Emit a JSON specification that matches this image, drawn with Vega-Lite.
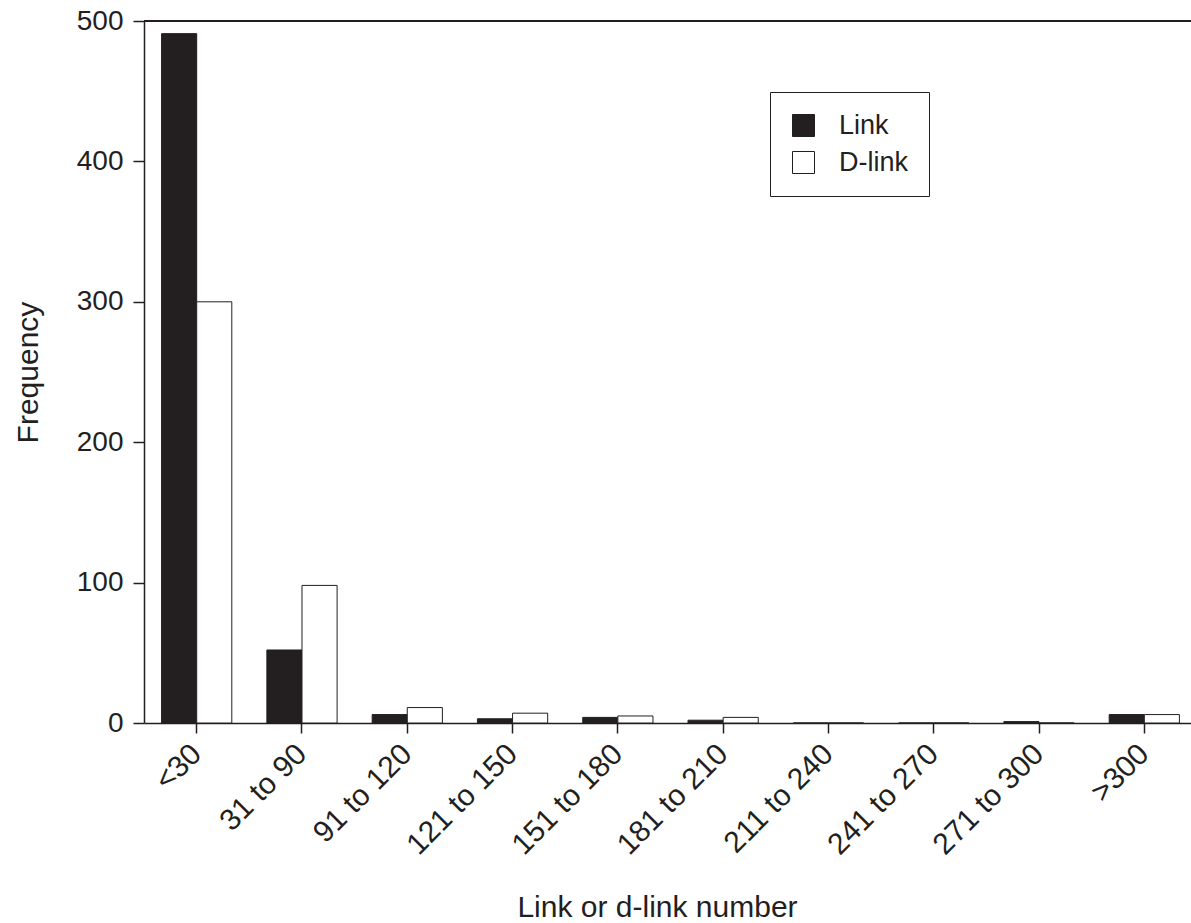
{
  "$schema": "https://vega.github.io/schema/vega-lite/v6.json",
  "autosize": {"type": "none"},
  "padding": {"left": 144, "top": 21, "right": 0, "bottom": 200},
  "width": 1047,
  "height": 702,
  "background": "white",
  "config": {
    "view": {"stroke": null},
    "font": "Liberation Sans",
    "axis": {
      "grid": false,
      "domainColor": "#231f20",
      "domainWidth": 1.5,
      "tickColor": "#231f20",
      "tickWidth": 1.5,
      "labelColor": "#231f20",
      "titleColor": "#231f20",
      "labelFont": "Liberation Sans",
      "titleFont": "Liberation Sans",
      "titleFontWeight": "normal"
    }
  },
  "data": {
    "values": [
      {"range": "<30", "series": "Link", "count": 491},
      {"range": "<30", "series": "D-link", "count": 300},
      {"range": "31 to 90", "series": "Link", "count": 52},
      {"range": "31 to 90", "series": "D-link", "count": 98},
      {"range": "91 to 120", "series": "Link", "count": 6},
      {"range": "91 to 120", "series": "D-link", "count": 11},
      {"range": "121 to 150", "series": "Link", "count": 3},
      {"range": "121 to 150", "series": "D-link", "count": 7},
      {"range": "151 to 180", "series": "Link", "count": 4},
      {"range": "151 to 180", "series": "D-link", "count": 5},
      {"range": "181 to 210", "series": "Link", "count": 2},
      {"range": "181 to 210", "series": "D-link", "count": 4},
      {"range": "211 to 240", "series": "Link", "count": 0},
      {"range": "211 to 240", "series": "D-link", "count": 0},
      {"range": "241 to 270", "series": "Link", "count": 0},
      {"range": "241 to 270", "series": "D-link", "count": 0},
      {"range": "271 to 300", "series": "Link", "count": 1},
      {"range": "271 to 300", "series": "D-link", "count": 0},
      {"range": ">300", "series": "Link", "count": 6},
      {"range": ">300", "series": "D-link", "count": 6}
    ]
  },
  "layer": [
    {
      "mark": {"type": "bar", "stroke": "#231f20", "strokeWidth": 1},
      "encoding": {
        "x": {
          "field": "range",
          "type": "nominal",
          "sort": null,
          "scale": {"range": [0, 1053], "paddingInner": 0.333, "paddingOuter": 0.167},
          "axis": {
            "title": "Link or d-link number",
            "titleFontSize": 30,
            "titleX": 513,
            "titleY": 193,
            "titleAlign": "center",
            "titleBaseline": "alphabetic",
            "labelAngle": -45,
            "labelAlign": "right",
            "labelBaseline": "middle",
            "labelFontSize": 30,
            "tickSize": 10,
            "labelPadding": 16
          }
        },
        "xOffset": {
          "field": "series",
          "type": "nominal",
          "scale": {"domain": ["Link", "D-link"], "paddingInner": 0, "paddingOuter": 0}
        },
        "y": {
          "field": "count",
          "type": "quantitative",
          "scale": {"domain": [0, 500], "nice": false},
          "axis": {
            "title": "Frequency",
            "titleFontSize": 30,
            "titleX": -107,
            "titleY": 351,
            "titleAngle": -90,
            "titleAlign": "center",
            "titleBaseline": "alphabetic",
            "values": [0, 100, 200, 300, 400, 500],
            "labelFontSize": 28,
            "tickSize": 11,
            "labelPadding": 10
          }
        },
        "fill": {
          "field": "series",
          "type": "nominal",
          "scale": {"domain": ["Link", "D-link"], "range": ["#231f20", "#ffffff"]},
          "legend": {
            "title": null,
            "orient": "none",
            "legendX": 626,
            "legendY": 71,
            "strokeColor": "#231f20",
            "padding": 20,
            "symbolType": "square",
            "symbolSize": 484,
            "symbolStrokeColor": "#231f20",
            "symbolStrokeWidth": 1,
            "labelFont": "Liberation Sans",
            "labelFontSize": 27,
            "labelColor": "#231f20",
            "labelOffset": 22,
            "labelLimit": 300,
            "rowPadding": 9
          }
        }
      }
    },
    {
      "mark": {"type": "rule", "color": "#231f20", "strokeWidth": 1.5},
      "encoding": {"y": {"datum": 500}}
    }
  ]
}
